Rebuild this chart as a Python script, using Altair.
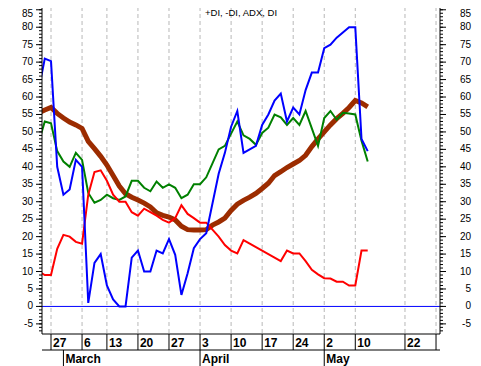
import altair as alt
import pandas as pd

# trading-day index: 0 = 27 Feb, holidays skipped
idx = list(range(-2, 52))

blue = [62, 71, 70.3, 40, 32, 33.5, 42, 40, 1, 12.5, 15, 6, 2, 0, 0, 14, 16, 10, 10, 16,
        15.2, 19.3, 14.8, 3.3, 9.5, 16.7, 19.3, 21, 29.5, 38, 44, 51.5, 56, 44, 45, 46, 52,
        55, 59, 61, 53, 57, 55, 62, 67, 67, 74, 75, 77, 78.5, 80, 80, 48, 44.5]
green = [47, 53, 52.5, 44.5, 41.5, 40, 44, 42, 32.5, 29.7, 30.5, 32, 31, 30.5, 31.5, 36, 36,
         34, 33, 35.8, 34, 35, 34, 31, 32, 35, 35, 37, 41, 45, 46, 49.5, 53, 49, 48, 46.3,
         49.7, 51.2, 55, 54.2, 52, 54, 52, 56, 51, 46, 54, 56, 53.5, 55.5, 55.3, 55, 47.5, 41.5]
red = [10, 9, 9, 16.5, 20.5, 20, 18.5, 18, 32, 38.5, 39, 36, 32, 30, 30, 27, 26, 28, 27, 26,
       24.8, 24, 25.3, 29, 26.5, 25.3, 24, 24, 22, 20, 17.6, 16, 15.2, 19, 18, 17, 16, 15,
       14, 13, 16, 15.2, 15.2, 13, 10.5, 9.2, 8.1, 8, 7.1, 7.1, 6, 6, 16, 16]
brown = [55.5, 56.3, 57, 55.3, 54, 52.8, 52, 51, 47.3, 45.2, 43, 40.5, 37.5, 34.5, 32.3, 31.3,
         30.5, 29.6, 28.5, 26.8, 26.1, 25.6, 24.8, 23, 22, 21.9, 21.9, 22, 23.3, 24.2, 25.3,
         27.5, 29.3, 30.4, 31.3, 32.4, 33.8, 35.3, 37.5, 38.6, 39.8, 40.8, 41.8, 43.3, 45.8,
         48, 50, 52, 53.8, 55.3, 57, 59, 58.3, 57.2]

tick_idx = [0, 5, 9, 14, 19, 24, 29, 34, 39, 44, 49, 57, 62]
tick_lbl = ["27", "6", "13", "20", "27", "3", "10", "17", "24", "2", "10", "22", ""]
month_idx = [2, 24, 44]
month_lbl = ["March", "April", "May"]
y_major = list(range(-5, 90, 5))
y_minor = list(range(-7, 88))
title_txt = "+DI, -DI, ADX, DI"

W, H = 398, 334
FONT = "Liberation Sans"

xs = alt.Scale(domain=[-1.45, 62.64], nice=False, zero=False)
ys = alt.Scale(domain=[-7.9, 87.8], nice=False, zero=False)

series = pd.DataFrame({"idx": idx, "blue": blue, "green": green, "red": red, "brown": brown})
ticks = pd.DataFrame({"idx": tick_idx, "lbl": tick_lbl})
months = pd.DataFrame({"idx": month_idx, "lbl": month_lbl})
minor = pd.DataFrame({"v": y_minor})
major = pd.DataFrame({"v": y_major, "lbl": [str(v) for v in y_major]})
one = pd.DataFrame({"a": [0]})

X = alt.X("idx:Q", scale=xs, axis=None)


def line(col, color, width):
    return alt.Chart(series).mark_line(color=color, strokeWidth=width, clip=True).encode(
        x=X, y=alt.Y(f"{col}:Q", scale=ys, axis=None))


def hrule(data, field, x1, x2, **kw):
    return alt.Chart(data).mark_rule(color="black", **kw).encode(
        y=alt.Y(f"{field}:Q", scale=ys, axis=None), x=alt.value(x1), x2=alt.value(x2))


def ylabels(xpos, flt, dy):
    return alt.Chart(major).transform_filter(flt).mark_text(
        align="right", baseline="middle", font=FONT, fontSize=10, color="black", dy=dy
    ).encode(y=alt.Y("v:Q", scale=ys, axis=None), x=alt.value(xpos), text="lbl:N")


grid = alt.Chart(ticks).mark_rule(color="#b8b8b8", strokeDash=[4, 3]).encode(
    x=X, y=alt.value(0), y2=alt.value(H))
zero = alt.Chart(pd.DataFrame({"z": [0]})).mark_rule(color="#0000FF", strokeWidth=1).encode(
    y=alt.Y("z:Q", scale=ys, axis=None), x=alt.value(0), x2=alt.value(W))

# y axes (both sides)
minor_left = hrule(minor, "v", -3, 0)
major_left = hrule(major, "v", -6, 0)
minor_right = hrule(minor, "v", W, W + 3)
major_right = hrule(major, "v", W, W + 6)
lab_left = ylabels(-9, "datum.v < 85", 0)
lab_left_top = ylabels(-9, "datum.v >= 85", 4.5)
lab_right = ylabels(W + 31, "datum.v < 85", 0)
lab_right_top = ylabels(W + 31, "datum.v >= 85", 4.5)
dom_left = alt.Chart(one).mark_rule(color="black").encode(
    x=alt.value(0), y=alt.value(0), y2=alt.value(H))
dom_right = alt.Chart(one).mark_rule(color="black").encode(
    x=alt.value(W), y=alt.value(0), y2=alt.value(H))

# date rows
bottom = alt.Chart(one).mark_rule(color="black").encode(
    y=alt.value(H), x=alt.value(0), x2=alt.value(W))
row2 = alt.Chart(one).mark_rule(color="black").encode(
    y=alt.value(H + 16), x=alt.value(0), x2=alt.value(W))
day_sep = alt.Chart(ticks).mark_rule(color="black").encode(
    x=X, y=alt.value(H), y2=alt.value(H + 16))
day_txt = alt.Chart(ticks).mark_text(align="left", baseline="middle", dx=2, font=FONT,
                                     fontSize=12, fontWeight="bold", color="black").encode(
    x=X, y=alt.value(H + 8.5), text="lbl:N")
mon_sep = alt.Chart(months).mark_rule(color="black").encode(
    x=X, y=alt.value(H + 16), y2=alt.value(H + 32))
mon_txt = alt.Chart(months).mark_text(align="left", baseline="middle", dx=2, font=FONT,
                                      fontSize=12, fontWeight="bold", color="black").encode(
    x=X, y=alt.value(H + 24.5), text="lbl:N")
title = alt.Chart(pd.DataFrame({"t": [title_txt]})).mark_text(
    align="center", baseline="middle", font=FONT, fontSize=9.5, color="black").encode(
    x=alt.value(199), y=alt.value(13), text="t:N")

chart = alt.layer(
    grid, zero,
    line("brown", "#9C2C00", 5),
    line("green", "#008000", 2),
    line("red", "#FF0000", 2),
    line("blue", "#0000FF", 2),
    minor_left, major_left, minor_right, major_right,
    lab_left, lab_left_top, lab_right, lab_right_top,
    dom_left, dom_right,
    bottom, row2, day_sep, day_txt, mon_sep, mon_txt, title,
).properties(
    width=W, height=H,
    autosize=alt.AutoSizeParams(type="none"),
    padding={"left": 34, "top": -8, "right": 33, "bottom": 32},
    background="white",
).configure_view(strokeWidth=0)

chart.save("out.html", embed_options={"renderer": "svg", "actions": False})
